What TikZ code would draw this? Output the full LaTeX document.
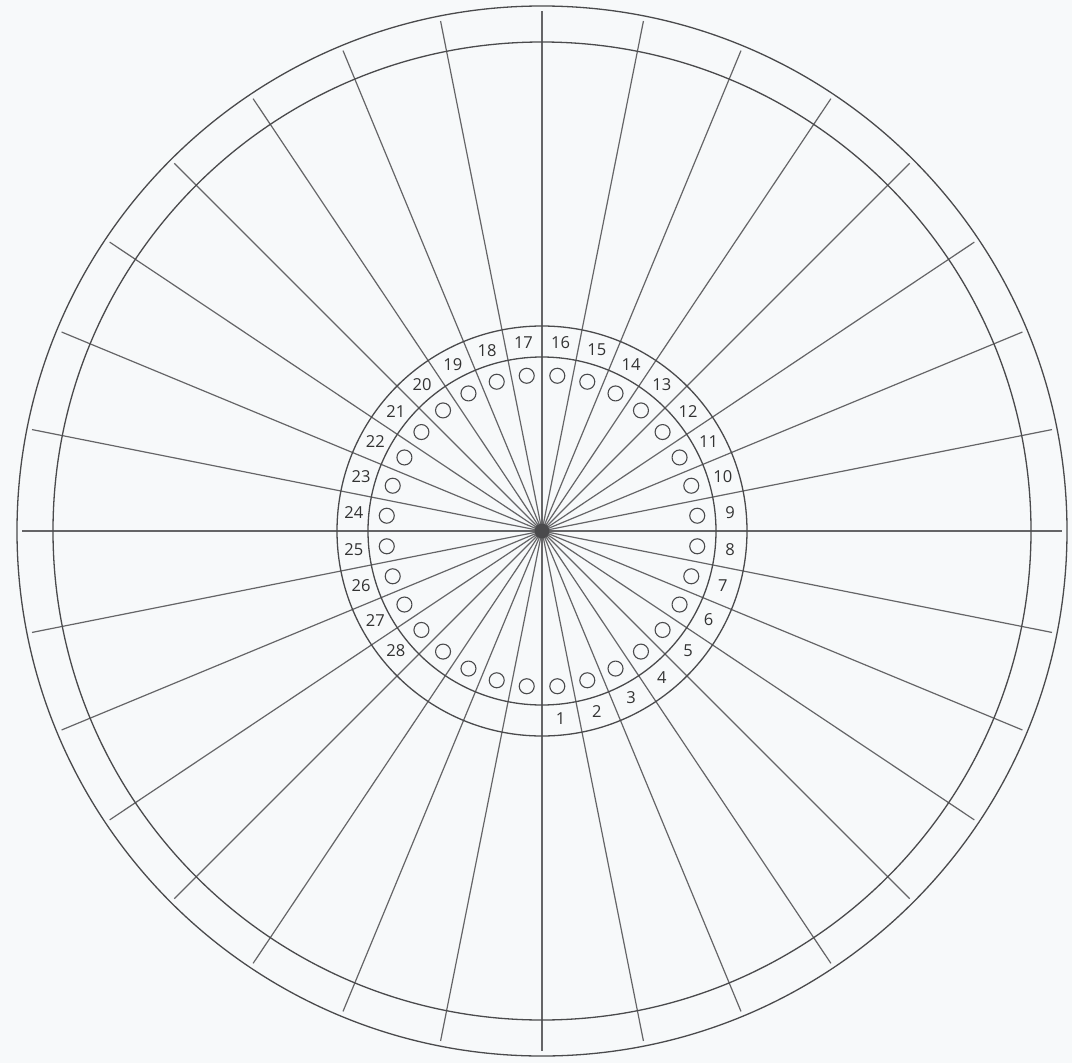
\documentclass[tikz,border=0pt]{standalone}
\usepackage{fontspec}
\setmainfont{Open Sans}
\definecolor{bgcol}{HTML}{F7F9FA}
\definecolor{inkcol}{HTML}{4A4A4C}
\begin{document}
\begin{tikzpicture}[x=1pt,y=-1pt,
  spoke/.style={draw=inkcol!85,line width=1.2pt},
  ring/.style={draw=inkcol,line width=1.3pt},
  num/.style={font=\fontsize{16.5}{17}\selectfont,text=black!80,inner sep=0pt},
  hole/.style={draw=inkcol,line width=1.1pt}]
\fill[bgcol] (0,0) rectangle (1072,1063);
\useasboundingbox (0,0) rectangle (1072,1063);
\coordinate (c) at (542,531);
% spokes
\foreach \i in {0,...,31}
  \draw[spoke] (c) -- ([shift={({\i*11.25}:520)}]c);
% rings
\draw[ring] (c) circle[radius=525];
\draw[ring] (c) circle[radius=489];
\draw[ring] (c) circle[radius=205];
\draw[ring] (c) circle[radius=174];
% day numbers
\foreach \k in {1,...,28}
  \node[num] (n\k) at ([shift={({90-(\k-0.5)*11.25}:189)}]c) {\k};
% holes
\foreach \k in {1,...,32}
  \draw[hole] ([shift={({90-(\k-0.5)*11.25}:156)}]c) circle[radius=7.5];
% centre dot
\fill[inkcol] (c) circle[radius=7.5];
\end{tikzpicture}
\end{document}
